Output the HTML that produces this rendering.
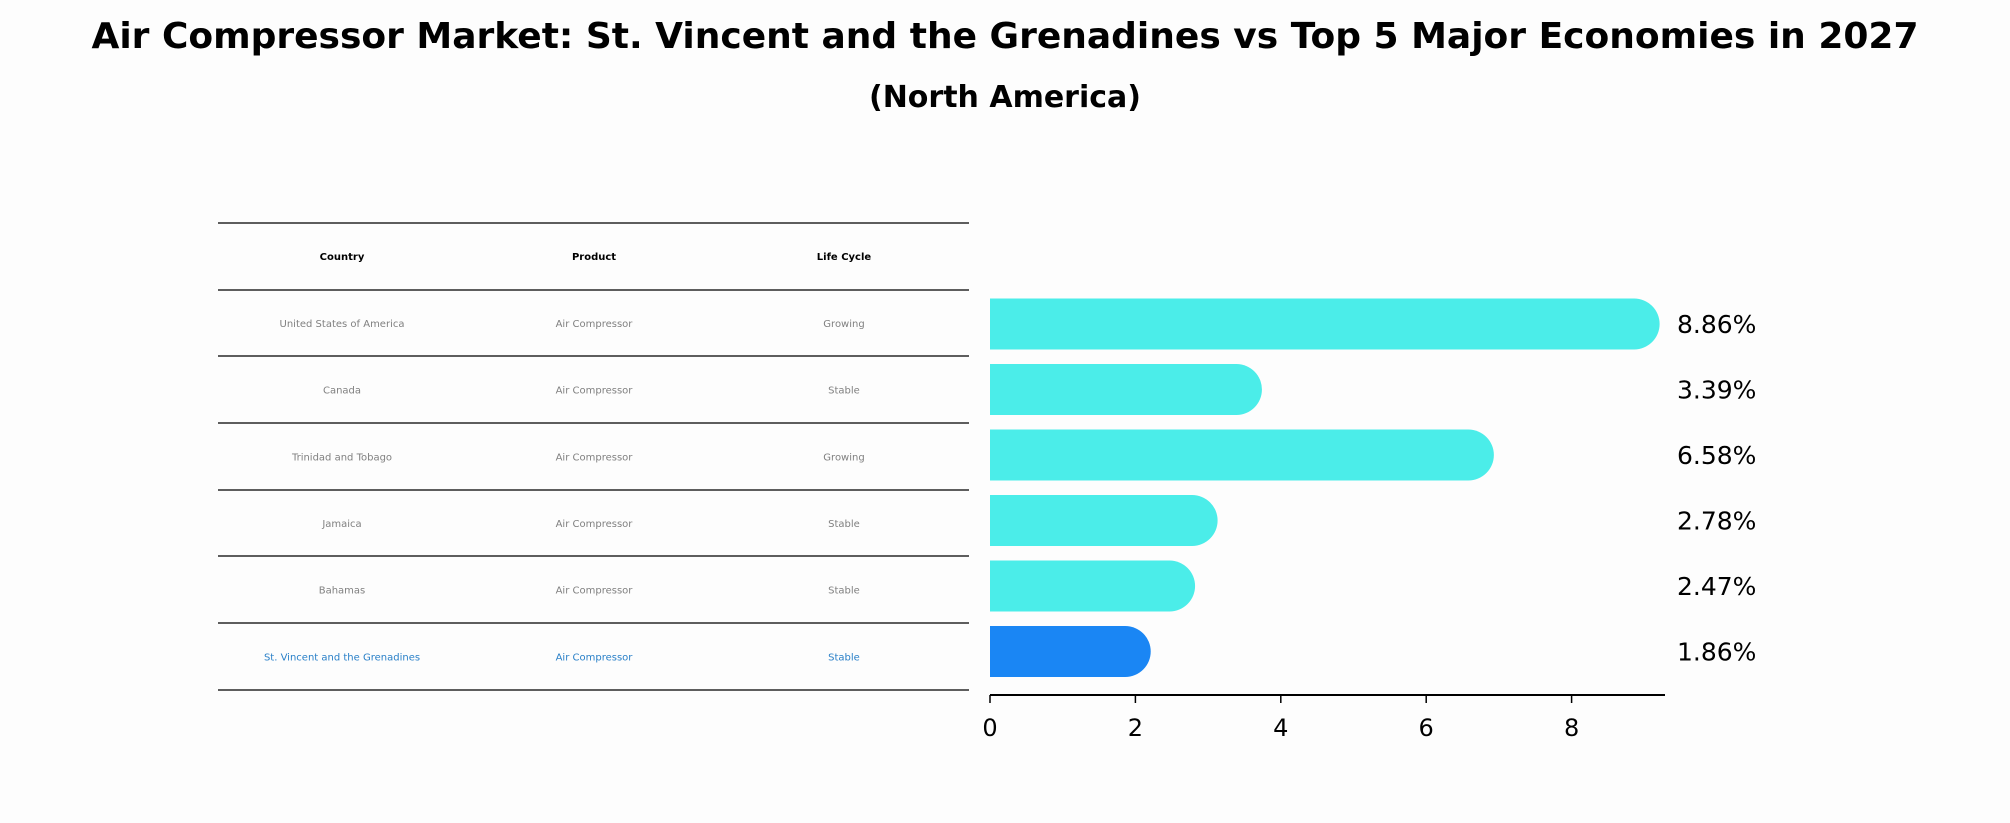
<!DOCTYPE html>
<html><head><meta charset="utf-8"><style>
html,body{margin:0;padding:0;background:#fdfdfd;}
body{width:2010px;height:823px;position:relative;overflow:hidden;font-family:"DejaVu Sans","Liberation Sans",sans-serif;}
.t{position:absolute;left:0;width:2010px;text-align:center;font-weight:bold;color:#000;}
</style></head><body>
<div class="t" style="top:16px;font-size:36px;">Air Compressor Market: St. Vincent and the Grenadines vs Top 5 Major Economies in 2027</div>
<div class="t" style="top:80px;font-size:30px;">(North America)</div>
<svg id="chart" width="2010" height="823" style="position:absolute;left:0;top:0;" font-family="DejaVu Sans, Liberation Sans, sans-serif"></svg>
<script>
const countries=["United States of America","Canada","Trinidad and Tobago","Jamaica","Bahamas","St. Vincent and the Grenadines"];
const products=["Air Compressor","Air Compressor","Air Compressor","Air Compressor","Air Compressor","Air Compressor"];
const lifeCycles=["Growing","Stable","Growing","Stable","Stable","Stable"];
const values=[8.86,3.39,6.58,2.78,2.47,1.86];
const xTicks=[0,2,4,6,8];
const headers=["Country","Product","Life Cycle"];

const svg=document.getElementById('chart');
const NS='http://www.w3.org/2000/svg';
function mk(t,a){const e=document.createElementNS(NS,t);for(const k in a)e.setAttribute(k,a[k]);svg.appendChild(e);return e;}
const x0=990,ppu=72.7;
const xs=v=>x0+v*ppu;
const rowY=i=>324+i*65.5;
const bh=51;
// table
const lineYs=[223,290,356,423,490,556,623,690];
lineYs.forEach((y,i)=>{const l=mk('line',{x1:218,x2:969,y1:y,y2:y,stroke:'#000','stroke-width':1.2});

});
const colX=[342,594,844];
headers.forEach((h,j)=>{const t=mk('text',{x:colX[j],y:260,'text-anchor':'middle','font-size':10,'font-weight':'bold',fill:'#000'});t.textContent=h;

});
countries.forEach((c,i)=>{
  const y=lineYs[i+1]+(lineYs[i+2]-lineYs[i+1])/2+4;
  const col=i===countries.length-1?'#2a80c8':'#808080';
  [c,products[i],lifeCycles[i]].forEach((s,j)=>{const t=mk('text',{x:colX[j],y:y,'text-anchor':'middle','font-size':10,fill:col});t.textContent=s;
  
  });
});
// bars
values.forEach((v,i)=>{
  const cy=rowY(i),r=bh/2,w=xs(v)-x0;
  const last=i===values.length-1;
  const fill=last?'#1a86f4':'#4bede9';
  const p=mk('path',{d:`M${x0},${cy-r} H${x0+w} A${r},${r} 0 0 1 ${x0+w},${cy+r} H${x0} Z`,fill:fill});
  
  
  const t=mk('text',{x:1677,y:cy+9,'font-size':25,fill:'#000'});
  t.textContent=v.toFixed(2)+'%';
  
  
});
// axis
const ax=mk('line',{x1:x0,x2:1665,y1:695,y2:695,stroke:'#000','stroke-width':2});


xTicks.forEach(v=>{
  const tk=mk('line',{x1:xs(v),x2:xs(v),y1:695,y2:703,stroke:'#000','stroke-width':1.5});
  
  
  const t=mk('text',{x:xs(v),y:736,'text-anchor':'middle','font-size':24,fill:'#000'});
  t.textContent=v;
  
  
});
</script>
</body></html>
